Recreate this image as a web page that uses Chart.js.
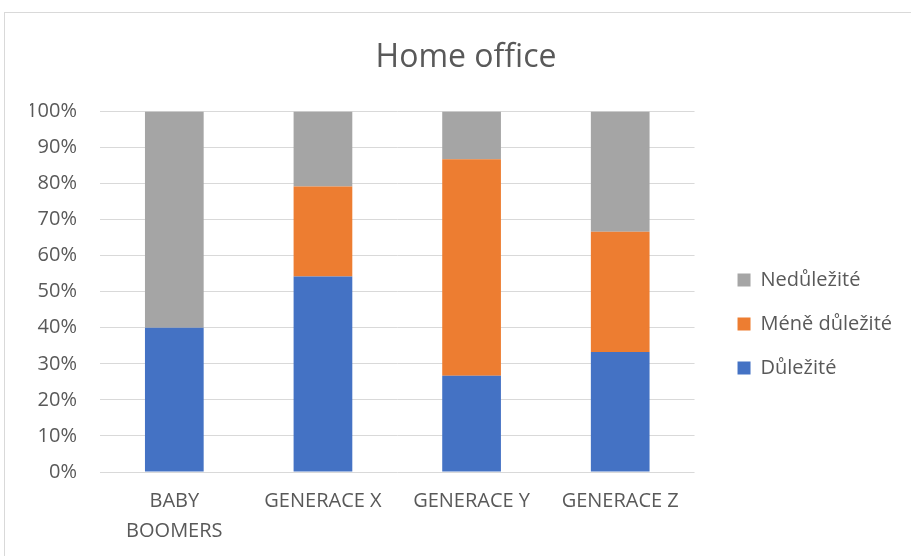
<!DOCTYPE html>
<html>
<head>
<meta charset="utf-8">
<script src="https://cdn.jsdelivr.net/npm/chart.js@4"></script>
<style>
  html, body { margin: 0; padding: 0; background: #ffffff; overflow: hidden; }
  #frame { position: absolute; left: 4px; top: 12px; width: 930px; height: 570px; border: 1px solid #d9d9d9; }
  #wrap { position: absolute; left: 0; top: 0; width: 911px; height: 556px; }
</style>
</head>
<body>
<div id="frame"></div>
<div id="wrap"><canvas id="home-office"></canvas></div>
<script>
var categories = [['BABY', 'BOOMERS'], 'GENERACE X', 'GENERACE Y', 'GENERACE Z'];
var dulezite = [40, 54.2, 26.7, 33.3];
var meneDulezite = [0, 25, 60, 33.3];
var nedulezite = [60, 20.8, 13.3, 33.4];
var yTicks = [0, 10, 20, 30, 40, 50, 60, 70, 80, 90, 100];

var textColor = '#595959';
var fontFamily = "'Open Sans', 'Noto Sans', sans-serif";

var ctx = document.getElementById('home-office');

var chart = new Chart(ctx, {
    type: 'bar',
    data: {
        labels: categories,
        datasets: [
            {
                label: 'Důležité',
                data: dulezite,
                backgroundColor: '#4472c4'
            },
            {
                label: 'Méně důležité',
                data: meneDulezite,
                backgroundColor: '#ed7d31'
            },
            {
                label: 'Nedůležité',
                data: nedulezite,
                backgroundColor: '#a5a5a5'
            }
        ]
    },
    options: {
        responsive: true,
        maintainAspectRatio: false,
        animation: false,
        datasets: {
            bar: { categoryPercentage: 1, barPercentage: 0.395 }
        },
        layout: {
            padding: { left: 30, right: 9, top: 0, bottom: 10 }
        },
        scales: {
            x: {
                stacked: true,
                afterFit: function (scale) { scale.height = 74; },
                grid: { display: false, drawTicks: false },
                border: { display: false },
                ticks: {
                    color: textColor,
                    padding: 14,
                    maxRotation: 0,
                    font: { family: fontFamily, size: 20, lineHeight: 1.5 }
                }
            },
            y: {
                stacked: true,
                min: 0,
                max: 100,
                afterBuildTicks: function (scale) {
                    scale.ticks = yTicks.map(function (v) { return { value: v }; });
                },
                afterFit: function (scale) { scale.width = 70; },
                grid: { color: '#d9d9d9', lineWidth: 1, drawTicks: false },
                border: { display: false },
                ticks: {
                    color: textColor,
                    padding: 23,
                    font: { family: fontFamily, size: 20 },
                    callback: function (v) { return v + '%'; }
                }
            },
            // empty axis keeping a gap between the plot and the legend
            spacer: {
                type: 'linear',
                position: 'right',
                grid: { display: false, drawTicks: false },
                border: { display: false },
                ticks: { display: false },
                afterFit: function (scale) { scale.width = 19; }
            }
        },
        plugins: {
            title: {
                display: true,
                text: 'Home office',
                color: textColor,
                font: { family: fontFamily, size: 32, weight: 'normal', lineHeight: 1.2 },
                padding: { top: 39, bottom: 34 }
            },
            legend: {
                position: 'right',
                reverse: true,
                maxWidth: 220,
                title: {
                    display: true,
                    text: ' ',
                    font: { family: fontFamily, size: 20 },
                    padding: 39
                },
                labels: {
                    boxWidth: 13,
                    boxHeight: 13,
                    padding: 24,
                    color: textColor,
                    font: { family: fontFamily, size: 20 }
                }
            },
            tooltip: { enabled: false }
        }
    }
});
</script>
</body>
</html>
